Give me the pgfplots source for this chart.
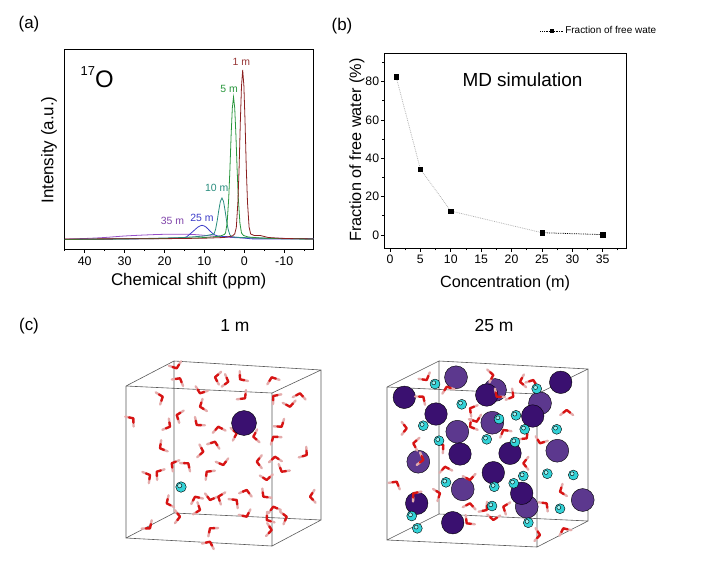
\documentclass[border=0pt]{standalone}
\usepackage{pgfplots}
\pgfplotsset{compat=1.18}
\usepackage{fontspec}
\setmainfont{Liberation Sans}
\definecolor{c1}{RGB}{139,32,32}
\definecolor{c5}{RGB}{40,150,60}
\definecolor{c10}{RGB}{40,140,125}
\definecolor{c25}{RGB}{60,60,200}
\definecolor{c35}{RGB}{150,80,200}
\definecolor{pdark}{RGB}{58,16,112}
\definecolor{plight}{RGB}{92,56,142}
\definecolor{cyanb}{RGB}{50,210,215}
\definecolor{cyanl}{RGB}{160,245,245}
\definecolor{wred}{RGB}{215,20,20}
\definecolor{wpink}{RGB}{228,172,172}
\pgfdeclareplotmark{water}{%
  \pgfsetlinewidth{2.4pt}\pgfsetroundcap\pgfsetroundjoin
  \pgfsetstrokecolor{wpink}%
  \pgfpathmoveto{\pgfqpoint{-6.5pt}{5.1pt}}\pgfpathlineto{\pgfqpoint{-3.0pt}{2.35pt}}%
  \pgfpathmoveto{\pgfqpoint{6.5pt}{5.1pt}}\pgfpathlineto{\pgfqpoint{3.0pt}{2.35pt}}%
  \pgfusepathqstroke
  \pgfsetstrokecolor{wred}%
  \pgfpathmoveto{\pgfqpoint{-3.4pt}{2.65pt}}\pgfpathlineto{\pgfpointorigin}\pgfpathlineto{\pgfqpoint{3.4pt}{2.65pt}}%
  \pgfusepathqstroke
}
\pgfplotsset{
  waterstyle/.style={scatter, only marks, mark=water,
    visualization depends on={\thisrow{a} \as \wang},
    scatter/@pre marker code/.append code={\pgftransformrotate{\wang}}},
}
\begin{document}
\begin{tikzpicture}
\path (0,0) rectangle (702bp,570bp);
% ---------------- overlay axis in image coordinates: panel (c) and panel letters
\begin{axis}[at={(0,0)}, anchor=south west, scale only axis, width=702bp, height=570bp,
  xmin=0, xmax=702, ymin=0, ymax=570, y dir=reverse, hide axis, clip=false,
  unbounded coords=jump]
% cube 1
\addplot[gray!70!black, line width=0.6pt] coordinates {
 (126,386) (272,393) (272,546) (126,538) (126,386) (nan,nan)
 (174,361) (321,370) (321,520) (174,513) (174,361) (nan,nan)
 (126,386) (174,361) (nan,nan) (272,393) (321,370) (nan,nan)
 (272,546) (321,520) (nan,nan) (126,538) (174,513)};
% cube 2
\addplot[gray!70!black, line width=0.6pt] coordinates {
 (387,387) (537,394) (537,547) (387,540) (387,387) (nan,nan)
 (439,361) (588,369) (588,521) (439,514) (439,361) (nan,nan)
 (387,387) (439,361) (nan,nan) (537,394) (588,369) (nan,nan)
 (537,547) (588,521) (nan,nan) (387,540) (439,514)};
% waters, 1 m
\addplot[waterstyle] table[row sep=\\] {
x y a\\
176.7 368.3 20\\ 180 378.3 150\\ 215 377.3 260\\ 228.3 381.7 75\\ 240 379.3 310\\
271.7 377.3 200\\ 162.7 396.7 110\\ 200 393.3 340\\ 245 398.3 45\\ 273.3 396 230\\
300 393.3 170\\ 200 406.7 290\\ 290 406.7 10\\ 133.3 418.3 130\\ 176.7 415 250\\
170 426.7 60\\ 196.7 425 320\\ 218.3 426.7 190\\ 236.7 433.3 100\\ 253.3 436.7 280\\
281.7 426.7 35\\ 273.3 436.7 215\\ 215 441.7 160\\ 160 448.3 300\\ 203.3 451.7 80\\
171.7 463.3 240\\ 188.3 463.3 140\\ 223.3 465 15\\ 256.7 461.7 270\\ 275 456.7 185\\
306.7 455 55\\ 281.7 471.7 330\\ 150 475 120\\ 206.7 471.7 225\\ 266.7 480 5\\
246.7 490 165\\ 166.7 503.3 295\\ 180 516.7 90\\ 195 496.7 205\\ 210 500 345\\
200 510 70\\ 218.3 496.7 250\\ 236.7 500 135\\ 246.7 516.7 25\\ 263.3 496.7 315\\
273.3 506.7 195\\ 286.7 516.7 105\\ 310 496.7 275\\ 150 528.3 40\\ 210 528.3 220\\
210 541.7 155\\ 266.7 520 305\\ 271.7 530 85\\ 156.7 471.7 235\\
};
% ions, 1 m
\addplot[only marks, mark=*, mark size=12.5pt, mark options={fill=pdark, draw=none}] coordinates {(244,423)};
\addplot[only marks, mark=*, mark size=5.3pt, mark options={fill=cyanb, draw=none}] coordinates {(181,487)};
\addplot[only marks, mark=*, mark size=2.2pt, mark options={fill=cyanl, draw=none, xshift=-1.3bp, yshift=1.3bp}] coordinates {(181,487)};
% 25 m : light purple
\addplot[only marks, mark=*, mark size=11.5pt, mark options={fill=plight, draw=none}] coordinates {
 (456,377.3) (495,390) (540,403.3) (457.3,431.7) (492.3,422.7) (418.3,461.7)
 (557.3,450.7) (462.7,489.3) (526.7,506.7) (582.7,500)};
% 25 m : dark purple
\addplot[only marks, mark=*, mark size=11.3pt, mark options={fill=pdark, draw=none}] coordinates {
 (404.3,397.3) (486.7,395) (560.7,382.3) (532.7,416) (436,414) (460,454)
 (510,453.3) (493.3,472.7) (521.7,493.3) (416.7,503.3) (452.7,522.7)};
% waters, 25 m
\addplot[waterstyle] table[row sep=\\] {
x y a\\
426.7 380 30\\ 446.7 386.7 200\\ 493.3 375 100\\ 520 381.7 280\\ 533.3 380 160\\
513.3 396.7 60\\ 496.7 396.7 320\\ 423.3 396.7 140\\ 470 408.3 240\\ 476.7 421.7 20\\
566.7 410 180\\ 406.7 428.3 90\\ 470 426.7 300\\ 503.3 430 210\\ 526.7 438.3 45\\
413.3 443.3 260\\ 443.3 445 125\\ 540 443.3 340\\ 423.3 460 75\\ 445 466.7 190\\
523.3 463.3 270\\ 396.7 481.7 150\\ 470 480 10\\ 413.3 493.3 230\\ 440 493.3 110\\
560 491.7 290\\ 470 503.3 170\\ 486.7 510 50\\ 503.3 506.7 250\\ 546.7 503.3 135\\
466.7 523.3 315\\ 540 535 85\\ 563.3 528.3 205\\ 493.3 520 355\\
};
% cyan, 25 m
\addplot[only marks, mark=*, mark size=5pt, mark options={fill=cyanb, draw=none}] coordinates {
 (435,384) (536.7,388.7) (461.7,404.3) (516,415.3) (423.3,425.7) (499,419)
 (524.7,429.3) (556.7,429.3) (439,440.7) (486.7,439.3) (515,442) (523.3,476)
 (547.3,473.7) (573.3,475) (446,482.3) (494.3,486.7) (513.7,483.3) (411.7,516)
 (417.3,528.3) (492,506) (560,508.7) (528.3,522.7)};
\addplot[only marks, mark=*, mark size=2pt, mark options={fill=cyanl, draw=none, xshift=-1.2bp, yshift=1.2bp}] coordinates {
 (435,384) (536.7,388.7) (461.7,404.3) (516,415.3) (423.3,425.7) (499,419)
 (524.7,429.3) (556.7,429.3) (439,440.7) (486.7,439.3) (515,442) (523.3,476)
 (547.3,473.7) (573.3,475) (446,482.3) (494.3,486.7) (513.7,483.3) (411.7,516)
 (417.3,528.3) (492,506) (560,508.7) (528.3,522.7)};
% texts
\node[font=\fontsize{17}{20}\selectfont] at (axis cs:29,24) {(a)};
\node[font=\fontsize{17}{20}\selectfont] at (axis cs:342,26) {(b)};
\node[font=\fontsize{17}{20}\selectfont] at (axis cs:29,326) {(c)};
\node[font=\fontsize{17.5}{20}\selectfont] at (axis cs:235,325) {1 m};
\node[font=\fontsize{17.5}{20}\selectfont] at (axis cs:494,325) {25 m};
\end{axis}
% ---------------- panel (a)
\begin{axis}[at={(64bp,321bp)}, anchor=south west, scale only axis,
  width=249.3bp, height=199.5bp,
  x dir=reverse, xmin=-17.3, xmax=45.2, ymin=-10, ymax=189.5,
  xtick={-10,0,10,20,30,40}, minor xtick={-15,-5,5,15,25,35,45}, ytick=\empty,
  tick align=outside, xtick pos=left,
  major tick length=4bp, minor tick length=2.2bp,
  axis line style={line width=0.9pt}, tick style={black, line width=0.8pt},
  ticklabel style={font=\fontsize{12.5}{14}\selectfont},
  /pgf/number format/assume math mode=true,
  xlabel={Chemical shift (ppm)}, ylabel={Intensity (a.u.)},
  label style={font=\fontsize{17}{20}\selectfont},
  xlabel style={at={(axis description cs:0.5,-0.160)}, anchor=center},
  ylabel style={at={(axis description cs:-0.06,0.496)}, anchor=center},
  clip=true]
\addplot[c35, line width=0.8pt, smooth] coordinates {
 (45,0) (40,0.5) (35,1.5) (30,3) (25,4) (20,4.7) (15,4.8) (12,4.3) (9,3.3) (6,2.3)
 (3,1.5) (0,1) (-5,0.8) (-10,0.6) (-17.3,0.5)};
\addplot[c25, line width=0.8pt, smooth, tension=0.4] coordinates {
 (45,-0.5) (30,0) (20,0.5) (15,1.5) (14.2,3) (13.6,5) (12.6,8.5) (11.6,12) (10.6,13.7)
 (9.6,12) (8.6,8) (7.6,4.5) (6.6,3) (5,2.5) (3,2) (0,1) (-3,0) (-17.3,0)};
\addplot[c10, line width=0.8pt] coordinates {
 (45,-0.5) (25,0.5) (15,1.5) (10,3) (8.2,4.5) (7.6,5) (7.2,9.5) (6.8,18) (6.4,28.5)
 (6.0,37.5) (5.6,41) (5.2,37.5) (4.8,28) (4.4,17) (4.0,9) (3.6,4) (3.0,2) (1,1.5)
 (-3,1) (-10,0.3) (-17.3,0)};
\addplot[c5, line width=0.8pt] coordinates {
 (45,-0.5) (20,0.5) (12,1) (8,2) (6,3) (5,4.5) (4.7,6) (4.3,16) (3.9,41) (3.6,70)
 (3.3,104) (3.0,131) (2.7,142) (2.4,131) (2.1,104) (1.8,70) (1.5,41) (1.1,16) (0.7,6)
 (0.2,3.5) (-1,2) (-4,1) (-10,0.3) (-17.3,0)};
\addplot[c1, line width=0.8pt] coordinates {
 (45,0) (20,0.3) (10,0.8) (5,1.5) (3,3) (2.4,5) (2.0,11.5) (1.6,37) (1.3,71) (1.0,116)
 (0.7,153) (0.4,169) (0.1,153) (-0.2,116) (-0.5,71) (-0.8,37) (-1.2,12) (-1.6,5)
 (-2.5,3.5) (-4,3.5) (-6,1.5) (-10,0.5) (-17.3,0)};
\node[text=c1!90!white, font=\fontsize{10.5}{12}\selectfont] at (axis cs:0.75,177) {1 m};
\node[text=c5, font=\fontsize{10.5}{12}\selectfont] at (axis cs:3.8,150) {5 m};
\node[text=c10, font=\fontsize{10.5}{12}\selectfont] at (axis cs:6.9,51) {10 m};
\node[text=c25, font=\fontsize{10.5}{12}\selectfont] at (axis cs:10.6,21.3) {25 m};
\node[text=c35!85!black, font=\fontsize{10.5}{12}\selectfont] at (axis cs:18,18) {35 m};
\node[anchor=west, font=\fontsize{24}{26}\selectfont] at (axis cs:41.9,162) {\raisebox{0.9ex}{\fontsize{13}{14}\selectfont 17}O};
\end{axis}
% ---------------- panel (b)
\begin{axis}[at={(384.3bp,321.7bp)}, anchor=south west, scale only axis,
  width=242.4bp, height=195bp,
  xmin=-0.94, xmax=38.95, ymin=-6.94, ymax=94.8,
  xtick={0,5,...,35}, minor xtick={2.5,7.5,...,37.5},
  ytick={0,20,...,80}, minor ytick={10,30,50,70,90},
  tick align=outside, xtick pos=left, ytick pos=left,
  major tick length=3.5bp, minor tick length=2bp,
  axis line style={line width=0.9pt}, tick style={black, line width=0.8pt},
  ticklabel style={font=\fontsize{12.3}{14}\selectfont},
  yticklabel style={inner sep=1.5pt},
  /pgf/number format/assume math mode=true,
  xlabel={Concentration (m)}, ylabel={Fraction of free water (\%)},
  label style={font=\fontsize{16.3}{19}\selectfont},
  xlabel style={at={(axis description cs:0.498,-0.178)}, anchor=center},
  ylabel style={at={(axis description cs:-0.113,0.504)}, anchor=center},
  legend style={at={(axis description cs:0.642,1.114)}, anchor=west, draw=none, fill=none,
    inner sep=0pt, font=\fontsize{10}{11}\selectfont, nodes={inner sep=1.5pt}},
  legend image code/.code={\draw[mark repeat=2,mark phase=2,#1] plot coordinates {(0bp,0bp) (11.5bp,0bp) (23bp,0bp)};},
  clip=false]
\addplot[gray!60, densely dotted, line width=0.8pt, forget plot] coordinates {(1,82.6) (5,34.4) (10,12.5) (25,1.2)};
\addplot[black, densely dotted, line width=0.8pt, forget plot] coordinates {(25,1.2) (35,0.2)};
\addplot[only marks, mark=square*, mark size=2.1pt, black, forget plot] coordinates {(1,82.6) (5,34.4) (10,12.5) (25,1.2) (35,0.2)};
\addlegendimage{black, densely dotted, line width=0.7pt, mark=square*, mark size=1.7pt, mark options={solid}}
\addlegendentry{Fraction of free wate}
\node[font=\fontsize{19}{22}\selectfont] at (axis cs:21.8,81) {MD simulation};
\end{axis}
\end{tikzpicture}
\end{document}
